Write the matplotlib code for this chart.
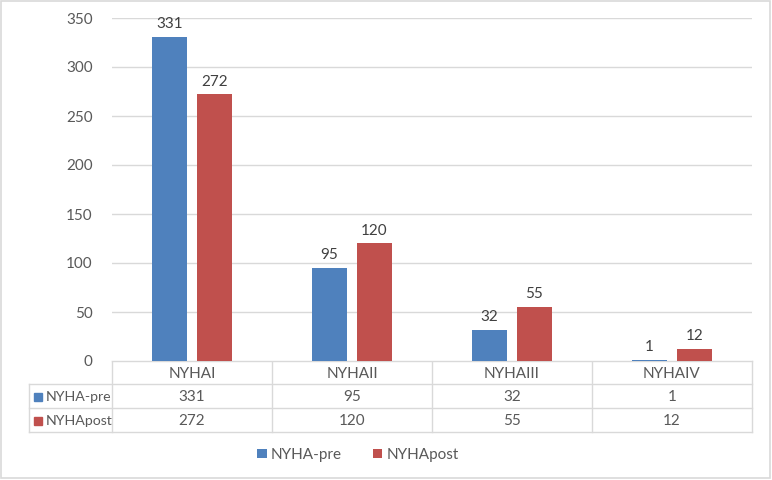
import numpy as np
import matplotlib
matplotlib.use("Agg")
from matplotlib import pyplot as plt

categories = ["NYHAI", "NYHAII", "NYHAIII", "NYHAIV"]
series_names = ["NYHA-pre", "NYHApost"]
pre = [331, 95, 32, 1]
post = [272, 120, 55, 12]
yticks = [0, 50, 100, 150, 200, 250, 300, 350]

colors = ["#4F81BD", "#C0504D"]
grid_c = "#D9D9D9"
txt_c = "#595959"
plt.rcParams['font.family'] = ['Lato', 'DejaVu Sans']

W, H = 772, 480
fig = plt.figure(figsize=(W / 100, H / 100), dpi=100)

# plot area in pixels
x0, x1 = 112, 752
ytop, ybot = 18, 361
ax = fig.add_axes([x0 / W, 1 - ybot / H, (x1 - x0) / W, (ybot - ytop) / H])

x = np.arange(len(categories))
bw = 0.22
off = 0.14
b1 = ax.bar(x - off, pre, bw, color=colors[0], label=series_names[0], zorder=3)
b2 = ax.bar(x + off, post, bw, color=colors[1], label=series_names[1], zorder=3)
for bars, vals in ((b1, pre), (b2, post)):
    for r, v in zip(bars, vals):
        ax.text(r.get_x() + r.get_width() / 2, v + 6, str(v), ha="center", va="bottom",
                fontsize=11, color="#404040")

ax.set_xlim(-0.5, len(categories) - 0.5)
ax.set_ylim(0, 350)
ax.set_yticks(yticks)
ax.set_xticks([])
ax.tick_params(axis="y", length=0, pad=14, labelsize=11, labelcolor=txt_c)
ax.yaxis.grid(True, color=grid_c, lw=1, zorder=0)
for s in ax.spines.values():
    s.set_visible(False)

# overlay for the data table and frame
ov = fig.add_axes([0, 0, 1, 1], zorder=-1)
ov.set_xlim(0, W)
ov.set_ylim(H, 0)
ov.axis("off")
ov.add_patch(plt.Rectangle((1, 1), W - 3, H - 3, fill=False, ec=grid_c, lw=1.2))

rows = [ybot, 384, 408, 432]
lx = 29
colw = (x1 - x0) / len(categories)
ov.plot([x0, x1], [rows[0], rows[0]], color=grid_c, lw=1)
for yy in rows[1:]:
    ov.plot([lx, x1], [yy, yy], color=grid_c, lw=1)
ov.plot([lx, lx], [rows[1], rows[3]], color=grid_c, lw=1)
for i in range(len(categories) + 1):
    xx = x0 + i * colw
    ov.plot([xx, xx], [rows[0], rows[3]], color=grid_c, lw=1)

for i, c in enumerate(categories):
    ov.text(x0 + (i + 0.5) * colw, (rows[0] + rows[1]) / 2 + 1, c, ha="center", va="center",
            fontsize=11, color=txt_c)
for r, (name, vals) in enumerate(zip(series_names, (pre, post))):
    yc = (rows[r + 1] + rows[r + 2]) / 2 + 1
    ov.add_patch(plt.Rectangle((34, yc - 4.5), 8, 8, color=colors[r]))
    ov.text(46, yc, name, ha="left", va="center", fontsize=10.2, color=txt_c)
    for i, v in enumerate(vals):
        ov.text(x0 + (i + 0.5) * colw, yc, str(v), ha="center", va="center",
                fontsize=11, color=txt_c)

leg = fig.legend(handles=[b1, b2], loc="center", bbox_to_anchor=(358 / W, 1 - 455 / H),
                 ncol=2, frameon=False, fontsize=11, handlelength=0.6, handleheight=0.6,
                 handletextpad=0.3, columnspacing=2.0, labelcolor=txt_c)

fig.savefig("out.png", dpi=100)
